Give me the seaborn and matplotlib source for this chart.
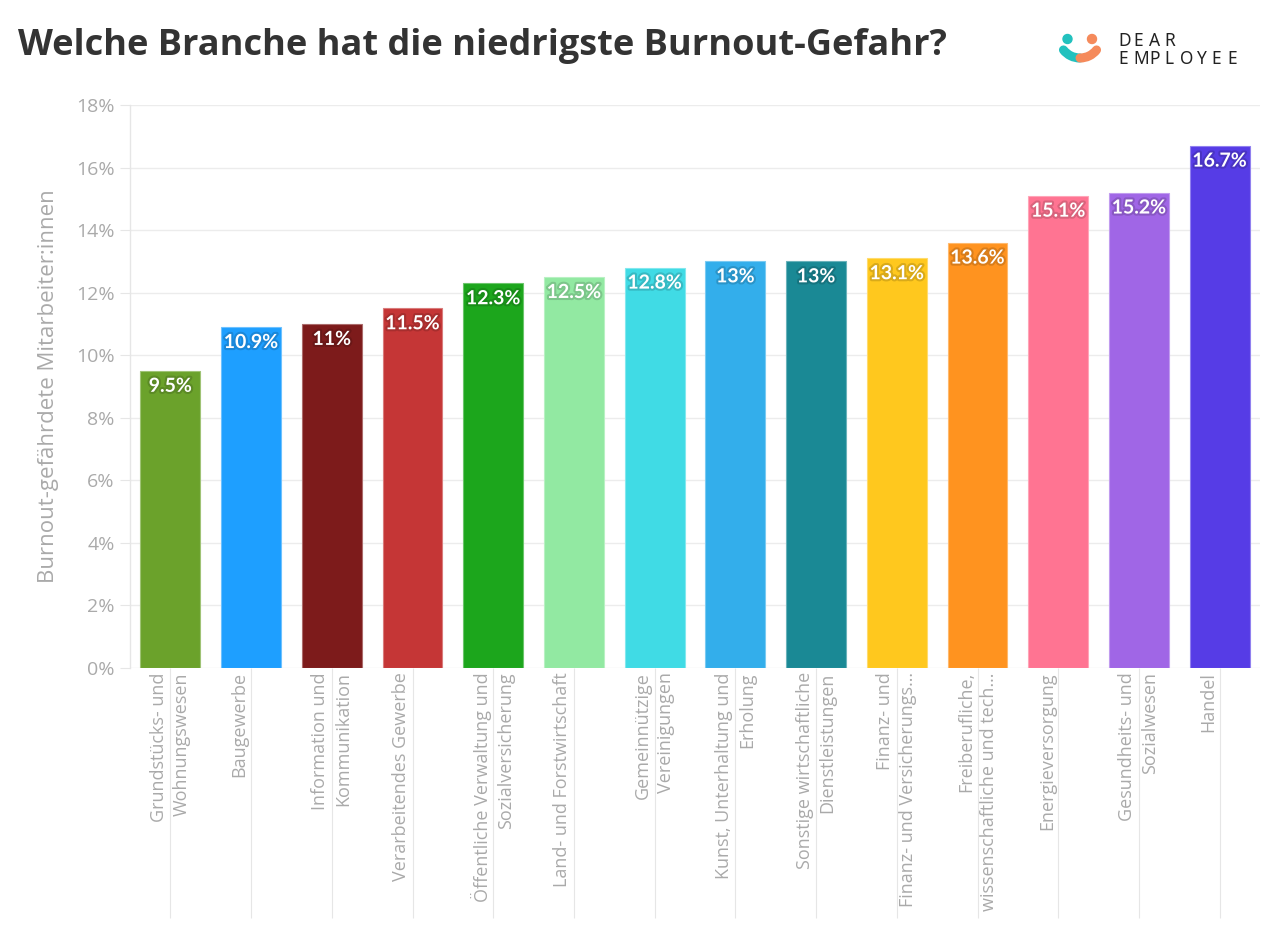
import numpy as np
import pandas as pd
import matplotlib
matplotlib.use("Agg")
import matplotlib.pyplot as plt
import matplotlib.patheffects as pe
from matplotlib.patches import Arc, Circle
from matplotlib.colors import to_rgb
import seaborn as sns

# ---------------- data ----------------
branchen = [
    "Grundstücks- und\nWohnungswesen",
    "Baugewerbe",
    "Information und\nKommunikation",
    "Verarbeitendes Gewerbe",
    "Öffentliche Verwaltung und\nSozialversicherung",
    "Land- und Forstwirtschaft",
    "Gemeinnützige\nVereinigungen",
    "Kunst, Unterhaltung und\nErholung",
    "Sonstige wirtschaftliche\nDienstleistungen",
    "Finanz- und\nFinanz- und Versicherungs…",
    "Freiberufliche,\nwissenschaftliche und tech…",
    "Energieversorgung",
    "Gesundheits- und\nSozialwesen",
    "Handel",
]
burnout = [9.5, 10.9, 11, 11.5, 12.3, 12.5, 12.8, 13, 13, 13.1, 13.6, 15.1, 15.2, 16.7]
farben = ["#6BA22B", "#1E9FFF", "#7D1B1B", "#C53636", "#1CA61C", "#92E9A2", "#40DBE5",
          "#33AEEB", "#1A8995", "#FFC81E", "#FF931F", "#FF7492", "#A066E6", "#563CE6"]
y_ticks = [0, 2, 4, 6, 8, 10, 12, 14, 16, 18]

df = pd.DataFrame({"branche": branchen, "wert": burnout})

sns.set_theme(style="white")
plt.rcParams["font.family"] = ["Open Sans", "DejaVu Sans"]

W, H = 1280, 925
fig = plt.figure(figsize=(W / 100, H / 100), dpi=100)
ax = fig.add_axes([130 / W, 1 - 668 / H, (1260 - 130) / W, (668 - 105) / H])

sns.barplot(data=df, x="branche", y="wert", hue="branche", palette=farben,
            order=branchen, legend=False, width=0.74, saturation=1, ax=ax)

def mix(c, other, t):
    c = np.array(to_rgb(c)); o = np.array(to_rgb(other))
    return tuple(c * (1 - t) + o * t)

for bar, col, v in zip(ax.patches, farben, burnout):
    bar.set_edgecolor(mix(col, "white", 0.35))
    bar.set_linewidth(0.8)
    txt = ax.annotate(f"{v:g}%", (bar.get_x() + bar.get_width() / 2, bar.get_height()),
                      xytext=(0, -5), textcoords="offset points", ha="center", va="top",
                      color="white", fontsize=14, fontweight="bold",
                      family=["Lato", "DejaVu Sans"])
    txt.set_path_effects([pe.withStroke(linewidth=3, foreground=mix(col, "black", 0.15))])

# axes styling
ax.set_ylim(0, 18)
ax.set_xlim(-0.5, len(branchen) - 0.5)
ax.set_yticks(y_ticks)
ax.set_yticklabels([f"{t}%" for t in y_ticks], color="#aaaaaa", fontsize=14)
ax.grid(axis="y", color="#ececec", linewidth=1)
ax.set_axisbelow(True)
for s in ["top", "right", "bottom"]:
    ax.spines[s].set_visible(False)
ax.spines["left"].set_color("#e6e6e6")
ax.spines["left"].set_linewidth(1)
ax.tick_params(axis="y", left=True, length=7, width=0.8, color="#e6e6e6", pad=4)

# x labels: major ticks carry the labels, long minor ticks draw the separators
pos = np.arange(len(branchen))
ax.xaxis.remove_overlapping_locs = False
ax.set_xticks(pos)
ax.set_xticklabels([b if "\n" in b else b + "\n" for b in branchen],
                   rotation=90, ha="center", va="top", multialignment="right",
                   color="#aaaaaa", fontsize=13, linespacing=1.35)
ax.set_xticks(pos, minor=True)
ax.tick_params(axis="x", which="major", bottom=True, length=0, pad=3)
ax.tick_params(axis="x", which="minor", bottom=True, length=180, width=0.8, color="#e6e6e6")
ax.set_xlabel("")
ax.set_ylabel("Burnout-gefährdete Mitarbeiter:innen", color="#aaaaaa", fontsize=16, labelpad=12)

# title
fig.text(18 / W, 1 - 46 / H, "Welche Branche hat die niedrigste Burnout-Gefahr?",
         fontsize=26, fontweight="bold", color="#333333", va="center", ha="left")

# logo
lax = fig.add_axes([1055 / W, 1 - 70 / H, 50 / W, 40 / H])
lax.set_xlim(1055, 1105)
lax.set_ylim(70, 30)
lax.set_aspect("equal")
lax.axis("off")
lax.add_patch(Circle((1067.5, 39), 4.5, color="#22C1BE"))
lax.add_patch(Circle((1092, 39), 4.5, color="#F58A5B"))
lax.add_patch(Arc((1080, 37), 42, 42, theta1=90, theta2=142, lw=6.5, color="#22C1BE", capstyle="round"))
lax.add_patch(Arc((1080, 37), 42, 42, theta1=38, theta2=90, lw=6.5, color="#F58A5B", capstyle="round"))
for word, yy in [("DEAR", 40.5), ("EMPLOYEE", 58.5)]:
    for i, ch in enumerate(word):
        fig.text((1118 + i * 15.6) / W, 1 - yy / H, ch, fontsize=12.5, color="#222222",
                 va="center", ha="left", family=["Noto Sans", "DejaVu Sans"])

fig.savefig("out.png", dpi=100)
